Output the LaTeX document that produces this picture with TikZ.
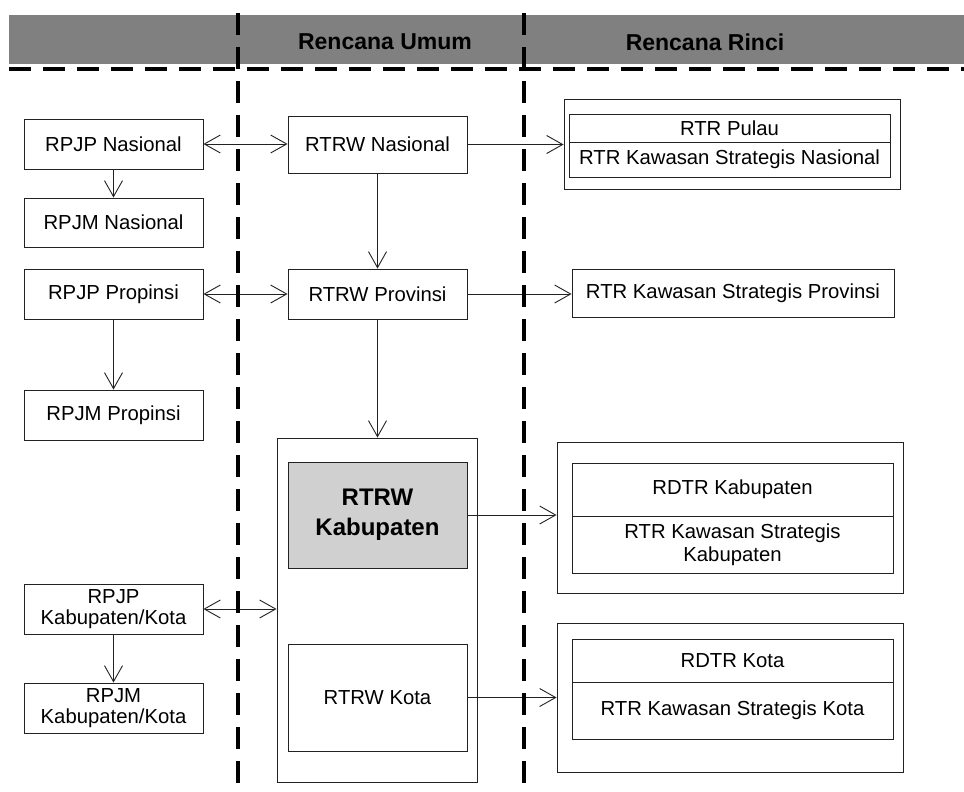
\documentclass[tikz,border=0pt]{standalone}
\usepackage{fontspec}
\setmainfont{Liberation Sans}
\usetikzlibrary{arrows.meta}
\definecolor{bandgray}{HTML}{808080}
\definecolor{boxgray}{HTML}{D0D0D0}
\definecolor{linec}{HTML}{222222}
\begin{document}
\begin{tikzpicture}[x=1pt,y=-1pt,
  box/.style={draw=linec, line width=0.9pt, inner sep=0pt, align=center,
    font=\fontsize{20.3}{21}\selectfont},
  tip/.tip={Straight Barb[length=16pt,width=18pt,line width=0.9pt]},
  conn/.style={draw=linec, line width=0.9pt, -tip},
  biconn/.style={draw=linec, line width=0.9pt, tip-tip},
  dashline/.style={draw=black, line width=3.3pt, dash pattern=on 22pt off 12pt},
  headtext/.style={font=\fontsize{23}{25}\selectfont\bfseries, inner sep=0pt}]
\useasboundingbox (0,0) rectangle (964,792);
% header band
\fill[bandgray] (9,15) rectangle (964,64);
\node[headtext] (hu) at (385,42) {Rencana Umum};
\node[headtext] (hr) at (705,42) {Rencana Rinci};

% left column
\node[box, minimum width=179pt, minimum height=50pt] (rpjpn) at (113.5,144) {RPJP Nasional};
\node[box, minimum width=179pt, minimum height=49pt] (rpjmn) at (113.5,222.5) {RPJM Nasional};
\node[box, minimum width=179pt, minimum height=50pt] (rpjpp) at (113.5,294) {RPJP Propinsi};
\node[box, minimum width=179pt, minimum height=50pt] (rpjmp) at (113.5,415) {RPJM Propinsi};
\node[box, minimum width=179pt, minimum height=50pt] (rpjpk) at (113.5,609) {RPJP\\Kabupaten/Kota};
\node[box, minimum width=179pt, minimum height=50pt] (rpjmk) at (113.5,708) {RPJM\\Kabupaten/Kota};

% middle column
\node[box, minimum width=179pt, minimum height=57pt] (rtrwn) at (377.5,144.5) {RTRW Nasional};
\node[box, minimum width=179pt, minimum height=50pt] (rtrwp) at (377.5,294) {RTRW Provinsi};
\node[box, minimum width=200pt, minimum height=344pt] (big) at (377,610) {};
\node[box, fill=boxgray, minimum width=179pt, minimum height=106pt,
  font=\fontsize{24}{30}\selectfont\bfseries] (rtrwk) at (377.5,515) {RTRW\\Kabupaten};
\node[box, minimum width=179pt, minimum height=107pt] (rtrwkota) at (377.5,697.5) {RTRW Kota};

% right column
\node[box, minimum width=336pt, minimum height=90pt] (out1) at (732,144) {};
\node[box, minimum width=321pt, minimum height=28pt] (pulau) at (729.5,128) {RTR Pulau};
\node[box, minimum width=321pt, minimum height=35pt] (ksn) at (729.5,159.5) {RTR Kawasan Strategis Nasional};
\node[box, minimum width=322pt, minimum height=48pt] (ksp) at (733,293) {RTR Kawasan Strategis Provinsi};
\node[box, minimum width=346pt, minimum height=151pt] (out2) at (730,517.5) {};
\node[box, minimum width=321pt, minimum height=53pt] (rdtrk) at (732.5,489.5) {RDTR Kabupaten};
\node[box, minimum width=321pt, minimum height=57pt, font=\fontsize{20.3}{23}\selectfont] (ksk) at (732.5,544.5) {RTR Kawasan Strategis\\Kabupaten};
\node[box, minimum width=346pt, minimum height=149pt] (out3) at (730,697.5) {};
\node[box, minimum width=321pt, minimum height=43pt] (rdtrkota) at (732.5,660.5) {RDTR Kota};
\node[box, minimum width=321pt, minimum height=57pt] (kskota) at (732.5,710.5) {RTR Kawasan Strategis Kota};

% connectors
\draw[biconn] (rpjpn.east) -- (rpjpn.east -| rtrwn.west);
\draw[conn] (rtrwn.east) -- (rtrwn.east -| out1.west);
\draw[conn] (rpjpn.south) -- (rpjmn.north);
\draw[conn] (rtrwn.south) -- (rtrwp.north);
\draw[biconn] (rpjpp.east) -- (rtrwp.west);
\draw[conn] (rtrwp.east) -- (rtrwp.east -| ksp.west);
\draw[conn] (rpjpp.south) -- (rpjmp.north);
\draw[conn] (rtrwp.south) -- (rtrwp.south |- big.north);
\draw[conn] (rtrwk.east) -- (rtrwk.east -| out2.west);
\draw[biconn] (rpjpk.east) -- (rpjpk.east -| big.west);
\draw[conn] (rpjpk.south) -- (rpjmk.north);
\draw[conn] (rtrwkota.east) -- (rtrwkota.east -| out3.west);

% dashed separators
\coordinate (v1t) at (238,13);
\coordinate (v1b) at (238,792);
\coordinate (v2t) at (524,13);
\coordinate (v2b) at (524,792);
\coordinate (hl) at (9,69);
\coordinate (hr2) at (964,69);
\draw[dashline] (v1t) -- (v1b);
\draw[dashline] (v2t) -- (v2b);
\draw[dashline] (hl) -- (hr2);
\end{tikzpicture}
\end{document}
